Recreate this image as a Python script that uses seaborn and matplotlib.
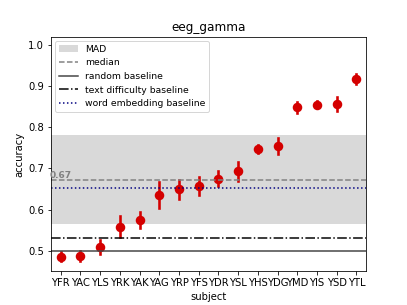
import pandas as pd
import matplotlib
matplotlib.use("Agg")
import matplotlib.pyplot as plt
import seaborn as sns

# -----------------------------
# Data
# -----------------------------
subjects = ["YFR", "YAC", "YLS", "YRK", "YAK", "YAG", "YRP", "YFS",
            "YDR", "YSL", "YHS", "YDG", "YMD", "YIS", "YSD", "YTL"]
means = [0.486, 0.488, 0.510, 0.559, 0.575, 0.635, 0.649, 0.658,
         0.675, 0.693, 0.748, 0.754, 0.848, 0.855, 0.857, 0.918]
errs = [0.011, 0.012, 0.017, 0.025, 0.020, 0.031, 0.022, 0.022,
        0.018, 0.023, 0.010, 0.019, 0.013, 0.008, 0.017, 0.012]

median = 0.673
mad_low = 0.566
mad_high = 0.780
random_baseline = 0.5
text_baseline = 0.53
embedding_baseline = 0.653

# long table: lower and upper end of each interval
rows = []
for s, m, e in zip(subjects, means, errs):
    rows.append({"subject": s, "accuracy": m - e})
    rows.append({"subject": s, "accuracy": m + e})
df = pd.DataFrame(rows)

# -----------------------------
# Plot
# -----------------------------
fig, ax = plt.subplots(figsize=(407 / 72, 305 / 72), dpi=72)

sns.pointplot(
    data=df,
    x="subject",
    y="accuracy",
    order=subjects,
    estimator="mean",
    errorbar=lambda x: (x.min(), x.max()),
    linestyle="none",
    color="#d40000",
    markersize=7.5,
    err_kws={"linewidth": 2.6},
    ax=ax
)

ax.axhspan(mad_low, mad_high, color="#bbbbbb", alpha=0.55, lw=0, label="MAD")
ax.axhline(median, color="grey", linestyle="--", lw=1.5, label="median")
ax.axhline(random_baseline, color="#444444", linestyle="-", lw=1.5, label="random baseline")
ax.axhline(text_baseline, color="black", linestyle="-.", lw=1.5, label="text difficulty baseline")
ax.axhline(embedding_baseline, color="navy", linestyle=":", lw=1.5, label="word embedding baseline")

ax.text(-0.55, median + 0.004, f"{median:.2f}", color="grey",
        fontweight="bold", fontsize=9)

ax.set_ylim(0.45, 1.02)
ax.set_xlim(-0.5, len(subjects) - 0.5)
ax.set_yticks([0.5, 0.6, 0.7, 0.8, 0.9, 1.0])
ax.set_title("eeg_gamma")
ax.legend(loc="upper left", fontsize=9.2)

plt.savefig("out.png")
